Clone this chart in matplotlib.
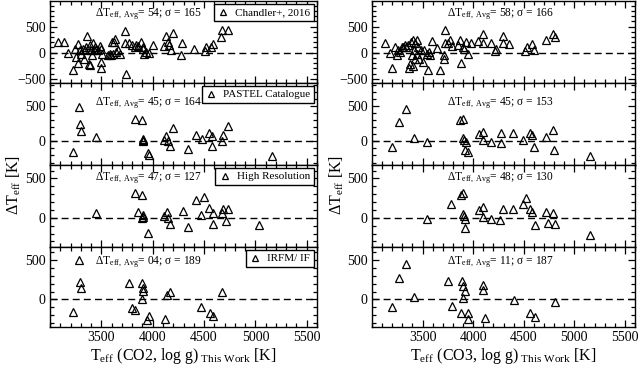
import numpy as np
import matplotlib
matplotlib.use("Agg")
import matplotlib.pyplot as plt
from matplotlib.ticker import MultipleLocator, FixedLocator

plt.rcParams['font.family'] = ['Liberation Serif', 'DejaVu Serif']
plt.rcParams['mathtext.fontset'] = 'custom'
plt.rcParams['mathtext.rm'] = 'Liberation Serif'
plt.rcParams['mathtext.it'] = 'Liberation Serif:italic'

# ---- CO2 column (left) ----
t_co2_chandler = [3081, 3139, 3177, 3226, 3242, 3258, 3268, 3274, 3290, 3306, 3323, 3332, 3339, 3348,
                  3365, 3377, 3387, 3393, 3403, 3410, 3419, 3429, 3435, 3452, 3468, 3484, 3494, 3494,
                  3500, 3510, 3565, 3581, 3597, 3606, 3613, 3622, 3635, 3645, 3661, 3677, 3726, 3726,
                  3742, 3768, 3800, 3823, 3839, 3855, 3887, 3903, 3910, 3919, 3935, 3961, 4000, 4113,
                  4129, 4145, 4161, 4177, 4200, 4274, 4290, 4403, 4506, 4523, 4564, 4590, 4668, 4677, 4735]
dt_co2_chandler = [200, 200, 0, -340, 80, -87, -200, 160, 47, -20, 80, -120, 47, 113,
                   313, -220, -240, 147, 60, -53, 180, 47, 113, 80, 47, 127, -173, -287,
                   80, -20, -53, -20, -53, 213, -20, 213, 260, 13, 47, -20, 413, 180,
                   -407, 193, 147, 113, 147, 127, 213, 113, 67, -20, 13, 0, 147, 127,
                   313, 213, 147, 60, 380, -53, 180, 80, 33, 113, 113, 167, 293, 427, 427]

t_co2_pastel = [3226, 3281, 3290, 3306, 3452, 3823, 3894, 3903, 3903, 3906, 3952, 3961, 4106, 4129,
                4145, 4171, 4200, 4345, 4426, 4477, 4548, 4574, 4581, 4677, 4687, 4735, 5161]
dt_co2_pastel = [-152, 490, 238, 152, 62, 319, 300, 24, 0, 38, -167, -190, 24, 81,
                 0, -62, 190, -105, 95, 33, 119, 71, -62, 0, 95, 214, -205]

t_co2_hires = [3452, 3823, 3894, 3855, 3903, 3910, 3900, 3952, 4113, 4135, 4145, 4171, 4297,
               4345, 4426, 4468, 4500, 4548, 4587, 4584, 4677, 4684, 4735, 4710, 5032]
dt_co2_hires = [55, 318, 288, 76, 34, 13, -8, -187, 21, 68, -8, -72, 85,
                -114, 225, 34, 267, 119, 55, -72, 55, 106, 106, -38, -93]

t_co2_irfm = [3281, 3290, 3306, 3226, 3768, 3894, 3903, 3903, 3897, 3797, 3829, 3968, 3945,
              4119, 4135, 4171, 4474, 4555, 4587, 4671]
dt_co2_irfm = [500, 225, 140, -157, 204, 204, 148, 106, 0, -106, -136, -208, -263,
               -250, 55, 97, -93, -178, -208, 97]

# ---- CO3 column (right) ----
t_co3_chandler = [3125, 3180, 3196, 3228, 3244, 3260, 3276, 3292, 3308, 3324, 3340, 3356, 3365, 3378,
                  3388, 3397, 3404, 3410, 3417, 3423, 3430, 3442, 3442, 3452, 3468, 3484, 3500, 3516,
                  3548, 3564, 3558, 3571, 3596, 3638, 3676, 3708, 3715, 3724, 3724, 3750, 3772, 3788,
                  3853, 3869, 3878, 3901, 3910, 3926, 3949, 3981, 4045, 4093, 4099, 4173, 4212, 4221,
                  4292, 4295, 4356, 4516, 4532, 4580, 4599, 4718, 4788, 4807]
dt_co3_chandler = [180, 0, -287, 113, -40, 47, 13, 113, 113, 147, 113, 147, -287, -220,
                   213, -53, 247, -253, 47, -120, 180, 247, -20, 113, -120, 47, -173, 47,
                   -20, 13, -340, -53, 227, 93, -340, -53, -120, 427, 193, 180, 247, 133,
                   147, 247, -200, 113, 80, 213, -20, 193, 227, 360, 193, 193, 33, 67,
                   313, 193, 160, 33, 113, 160, 60, 247, 367, 293]

t_co3_pastel = [3196, 3269, 3340, 3420, 3542, 3869, 3901, 3897, 3910, 3926, 3923, 3949, 4061, 4093,
                4099, 4173, 4276, 4276, 4397, 4497, 4558, 4580, 4606, 4724, 4792, 4804, 5160]
dt_co3_pastel = [-86, 276, 452, 48, -10, 295, 310, 48, 24, -10, -119, -157, 105, 133,
                 14, -10, 119, -24, 119, 24, 119, 95, -86, 57, 167, -119, -205]

t_co3_hires = [3542, 3782, 3875, 3901, 3897, 3910, 3923, 3923, 4061, 4093, 4099, 4173, 4269,
               4292, 4397, 4494, 4526, 4558, 4580, 4609, 4718, 4740, 4792, 4808, 5160]
dt_co3_hires = [-17, 174, 288, 310, 47, 25, -21, -127, 98, 131, 13, -21, -30,
                106, 106, 170, 246, 110, 68, -93, 76, -64, 55, -81, -220]

t_co3_irfm = [3333, 3269, 3196, 3420, 3750, 3788, 3891, 3901, 3923, 3901, 3875, 3949, 3949,
              4093, 4093, 4115, 4404, 4558, 4612, 4808]
dt_co3_irfm = [445, 267, -93, 34, 233, -81, 233, 174, 106, 13, -170, -178, -254,
               182, 119, -233, -8, -170, -220, -38]

legend_labels = ['Chandler+, 2016', 'PASTEL Catalogue', 'High Resolution', 'IRFM/ IF']
co2_stats = ['54; \u03c3 = 165', '45; \u03c3 = 164', '47; \u03c3 = 127', '04; \u03c3 = 189']
co3_stats = ['58; \u03c3 = 166', '45; \u03c3 = 153', '48; \u03c3 = 130', '11; \u03c3 = 187']

left_data = [(t_co2_chandler, dt_co2_chandler), (t_co2_pastel, dt_co2_pastel),
             (t_co2_hires, dt_co2_hires), (t_co2_irfm, dt_co2_irfm)]
right_data = [(t_co3_chandler, dt_co3_chandler), (t_co3_pastel, dt_co3_pastel),
              (t_co3_hires, dt_co3_hires), (t_co3_irfm, dt_co3_irfm)]

W, H = 643, 365
fig = plt.figure(figsize=(W / 100, H / 100), dpi=100)

# panel edges in pixels (top, bottom)
rows = [(1, 83), (83, 165), (165, 247), (247, 327)]
ylims = [(-580, 990), (-335, 825), (-370, 670), (-350, 665)]
stat_y = [0.84, 0.76, 0.84, 0.81]
cols = [(50, 317), (372, 635)]


def setup(ax, r, bottom):
    ax.set_xlim(3000, 5600)
    ax.set_ylim(*ylims[r])
    ax.xaxis.set_major_locator(FixedLocator([3500, 4000, 4500, 5000, 5500]))
    ax.xaxis.set_minor_locator(MultipleLocator(100))
    ax.yaxis.set_major_locator(MultipleLocator(500))
    ax.yaxis.set_minor_locator(MultipleLocator(100))
    ax.tick_params(which='both', direction='in', top=True, right=True, labelsize=10, pad=3)
    ax.tick_params(which='major', length=5, width=0.9)
    ax.tick_params(which='minor', length=3, width=0.9)
    if not bottom:
        ax.tick_params(labelbottom=False)
    for s in ax.spines.values():
        s.set_linewidth(1.0)
    ax.axhline(0, color='black', ls=(0, (5, 3)), lw=1.0, zorder=1)


for c, (x0, x1) in enumerate(cols):
    data = left_data if c == 0 else right_data
    stats = co2_stats if c == 0 else co3_stats
    for r in range(4):
        top, bot = rows[r]
        ax = fig.add_axes([x0 / W, 1 - bot / H, (x1 - x0) / W, (bot - top) / H])
        setup(ax, r, r == 3)
        t, dt = data[r]
        ax.plot(t, dt, ls='none', marker='^', ms=5.5, mfc='none', mec='black', mew=0.9,
                label=legend_labels[r])
        sx = 0.37 if c == 0 else 0.49
        ax.text(sx, stat_y[r], '\u0394T$_{\\mathrm{eff,\\ Avg}}$= ' + stats[r],
                transform=ax.transAxes, ha='center', va='center', fontsize=8.3)
        if c == 0:
            leg = ax.legend(loc='upper right', fontsize=8, frameon=True, fancybox=False,
                            framealpha=1, edgecolor='black', handlelength=1.0, handletextpad=0.6,
                            borderaxespad=0.25, borderpad=0.35, markerscale=0.75)
            leg.get_frame().set_linewidth(1.0)
        if r == 3:
            lab = 'CO2' if c == 0 else 'CO3'
            ax.set_xlabel('T$_{\\mathrm{eff}}$ (' + lab + ', log g)$_{\\mathrm{\\ This\\ Work}}$ [K]',
                          fontsize=11.5, labelpad=1)

fig.text(14 / W, 1 - 185 / H, '\u0394T$_{\\mathrm{eff}}$ [K]', rotation=90, ha='center', va='center', fontsize=11.5)
fig.text(337 / W, 1 - 185 / H, '\u0394T$_{\\mathrm{eff}}$ [K]', rotation=90, ha='center', va='center', fontsize=11.5)

fig.savefig('out.png', dpi=100)
